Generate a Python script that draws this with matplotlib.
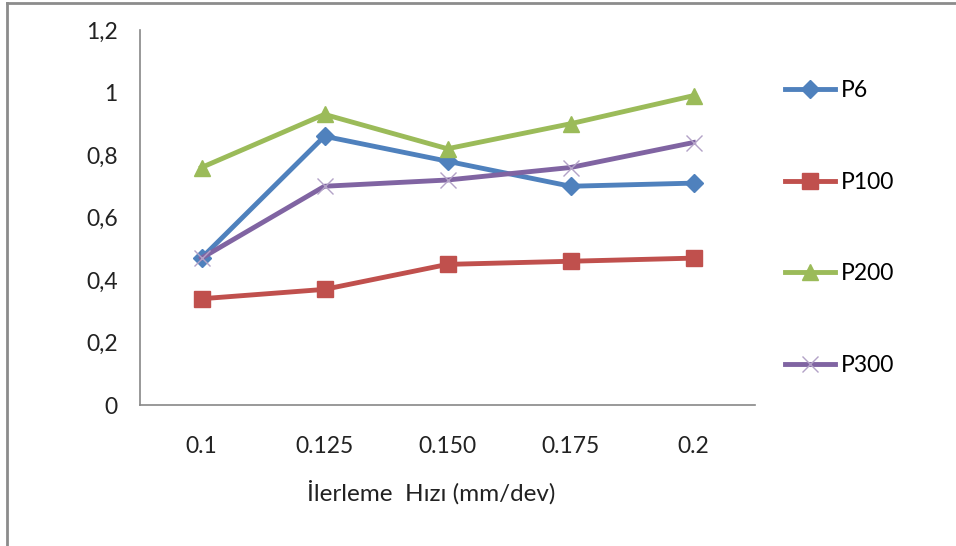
import matplotlib.pyplot as plt
from matplotlib.lines import Line2D
from matplotlib.ticker import FuncFormatter

plt.rcParams['font.family'] = ['Lato', 'DejaVu Sans']

feed_rates = ['0.1', '0.125', '0.150', '0.175', '0.2']
p6 = [0.47, 0.86, 0.78, 0.70, 0.71]
p100 = [0.34, 0.37, 0.45, 0.46, 0.47]
p200 = [0.76, 0.93, 0.82, 0.90, 0.99]
p300 = [0.47, 0.70, 0.72, 0.76, 0.84]

fig = plt.figure(figsize=(9.56, 5.46), dpi=100)
ax = fig.add_axes([140 / 956, 1 - 405 / 546, 615 / 956, 375 / 546])

x = range(len(feed_rates))
ax.plot(x, p6, color='#4F81BD', lw=3.5, marker='D', ms=9, label='P6')
ax.plot(x, p100, color='#C0504D', lw=3.5, marker='s', ms=11, label='P100')
ax.plot(x, p200, color='#9BBB59', lw=3.5, marker='^', ms=12, label='P200')
ax.plot(x, p300, color='#8064A2', lw=3.5, marker='x', ms=12, mew=1,
        mec='#B3A2C7', label='P300')

ax.set_xlim(-0.5, len(feed_rates) - 0.5)
ax.set_ylim(0, 1.2)
ax.set_yticks([0, 0.2, 0.4, 0.6, 0.8, 1.0, 1.2])
ax.yaxis.set_major_formatter(
    FuncFormatter(lambda v, _: ('%g' % round(v, 1)).replace('.', ',')))
ax.set_xticks(list(x))
ax.set_xticklabels(feed_rates)
ax.tick_params(length=0, labelsize=16.5, colors='#222222')
ax.tick_params(axis='y', pad=16)
ax.tick_params(axis='x', pad=22)

for side in ('top', 'right'):
    ax.spines[side].set_visible(False)
for side in ('left', 'bottom'):
    ax.spines[side].set_color('#878787')
    ax.spines[side].set_linewidth(1.2)

ax.set_xlabel('İlerleme  Hızı (mm/dev)', fontsize=17.5, color='#222222',
              labelpad=17)
ax.xaxis.set_label_coords(0.473, -0.2)

ax.legend(loc='center left', bbox_to_anchor=(1.034, 0.472), frameon=False,
          fontsize=16.5, labelspacing=3.08, handlelength=2.2,
          handletextpad=0.25, borderaxespad=0)

# chart frame on the left and top edges
fig.add_artist(Line2D([7 / 956, 7 / 956], [0, 1 - 3 / 546],
                      transform=fig.transFigure, color='#8C8C8C', lw=2))
fig.add_artist(Line2D([7 / 956, 1], [1 - 3 / 546, 1 - 3 / 546],
                      transform=fig.transFigure, color='#8C8C8C', lw=2))

fig.savefig('out.png', dpi=100)
